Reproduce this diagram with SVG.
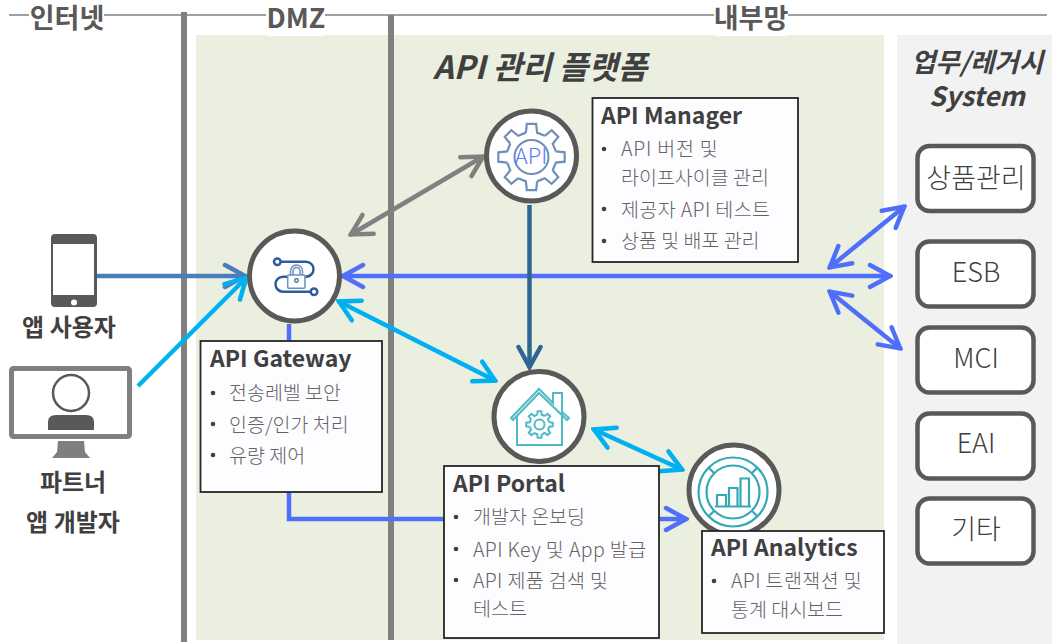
<svg xmlns="http://www.w3.org/2000/svg" xmlns:xlink="http://www.w3.org/1999/xlink" width="1059" height="644" viewBox="0 0 1059 644">
<style>
text{font-family:"Noto Sans CJK KR","Noto Sans",sans-serif}
.zone{font-size:27px;font-weight:700;fill:#595959;text-anchor:middle}
.ttl{font-size:32px;font-weight:700;font-style:italic;fill:#404040}
.leg{font-size:26.500px;font-weight:700;font-style:italic;fill:#404040;text-anchor:middle}
.actor{font-size:24px;font-weight:700;fill:#404040;text-anchor:middle}
.h{font-size:23px;font-weight:700;fill:#404040}
.b{font-size:19.500px;fill:#636363;font-weight:300}
.dot{fill:#404040}
.box{fill:#fdfcff;stroke:#262626;stroke-width:1.800}
.sys{fill:#fff;stroke:#595959;stroke-width:4.500}
.st{font-size:27px;fill:#404040;text-anchor:middle;font-weight:300}
.circ{fill:#fff;stroke:#595959;stroke-width:5}
.c{fill:none;stroke-width:4.500}
.ah{fill:none;stroke-width:4.500;stroke-linecap:round;stroke-linejoin:miter}
</style>
<defs>
<marker id="mSteel" markerUnits="userSpaceOnUse" viewBox="-26 -14 28 28" refX="0" refY="0" markerWidth="28" markerHeight="28" orient="auto-start-reverse"><path class="ah" stroke="#4a7ebb" d="M-21,-11L-1,0L-21,11"/></marker>
<marker id="mCyan" markerUnits="userSpaceOnUse" viewBox="-26 -14 28 28" refX="0" refY="0" markerWidth="28" markerHeight="28" orient="auto-start-reverse"><path class="ah" stroke="#00b0f0" d="M-21,-11L-1,0L-21,11"/></marker>
<marker id="mBlue" markerUnits="userSpaceOnUse" viewBox="-26 -14 28 28" refX="0" refY="0" markerWidth="28" markerHeight="28" orient="auto-start-reverse"><path class="ah" stroke="#4f6ffa" d="M-21,-11L-1,0L-21,11"/></marker>
<marker id="mGray" markerUnits="userSpaceOnUse" viewBox="-26 -14 28 28" refX="0" refY="0" markerWidth="28" markerHeight="28" orient="auto-start-reverse"><path class="ah" stroke="#808080" d="M-21,-11L-1,0L-21,11"/></marker>
<marker id="mNavy" markerUnits="userSpaceOnUse" viewBox="-26 -14 28 28" refX="0" refY="0" markerWidth="28" markerHeight="28" orient="auto-start-reverse"><path class="ah" stroke="#2f6593" d="M-21,-11L-1,0L-21,11"/></marker>
<path id="tooth" fill="none" d="M-5.620,-24.360L-4.660,-33.180H4.660L5.620,-24.360L13.250,-21.200"/>
<g id="gear">
<use xlink:href="#tooth" href="#tooth"/><use xlink:href="#tooth" href="#tooth" transform="rotate(45)"/><use xlink:href="#tooth" href="#tooth" transform="rotate(90)"/><use xlink:href="#tooth" href="#tooth" transform="rotate(135)"/><use xlink:href="#tooth" href="#tooth" transform="rotate(180)"/><use xlink:href="#tooth" href="#tooth" transform="rotate(225)"/><use xlink:href="#tooth" href="#tooth" transform="rotate(270)"/><use xlink:href="#tooth" href="#tooth" transform="rotate(315)"/>
</g>
</defs>

<g id="zones">
<rect x="196" y="35" width="688" height="605" fill="#ebefdf"/>
<rect x="897" y="35" width="155" height="609" fill="#f2f2f2"/>
<line x1="9" y1="15" x2="1047" y2="15" stroke="#7f7f7f" stroke-width="1.600"/>
<line x1="184" y1="12" x2="184" y2="642" stroke="#7f7f7f" stroke-width="6"/>
<line x1="391" y1="15" x2="391" y2="640" stroke="#7f7f7f" stroke-width="6"/>
<rect x="29" y="0" width="75" height="32" fill="#fff"/>
<rect x="266" y="0" width="59" height="36" fill="#fff"/>
<rect x="714" y="0" width="74" height="36" fill="#fff"/>
<text class="zone" x="67" y="28">인터넷</text>
<text class="zone" x="296" y="28">DMZ</text>
<text class="zone" x="751" y="28">내부망</text>
<text class="ttl" x="433" y="79">API 관리 플랫폼</text>
<text class="leg" x="977" y="72">업무/레거시</text>
<text class="leg" x="977" y="106">System</text>
</g>

<g id="connectors">
<line class="c" stroke="#4a7ebb" x1="97" y1="276" x2="246" y2="276" marker-end="url(#mSteel)"/>
<line class="c" stroke="#00b0f0" x1="138" y1="386" x2="247" y2="277" marker-end="url(#mCyan)"/>
<line class="c" stroke="#808080" x1="350" y1="235" x2="484" y2="156" marker-start="url(#mGray)" marker-end="url(#mGray)"/>
<path class="c" stroke="#4f6ffa" d="M289,324V519H687" marker-end="url(#mBlue)"/>
<line class="c" stroke="#4f6ffa" x1="342" y1="276" x2="891" y2="276" marker-start="url(#mBlue)" marker-end="url(#mBlue)"/>
<line class="c" stroke="#2f6593" x1="529.500" y1="205" x2="529.500" y2="368" marker-end="url(#mNavy)"/>
<line class="c" stroke="#00b0f0" x1="338" y1="301" x2="496" y2="381" marker-start="url(#mCyan)" marker-end="url(#mCyan)"/>
<line class="c" stroke="#00b0f0" x1="593" y1="429" x2="683" y2="470" marker-start="url(#mCyan)" marker-end="url(#mCyan)"/>
<line class="c" stroke="#4f6ffa" x1="829" y1="268" x2="905" y2="206" marker-start="url(#mBlue)" marker-end="url(#mBlue)"/>
<line class="c" stroke="#4f6ffa" x1="829" y1="291" x2="901" y2="349" marker-start="url(#mBlue)" marker-end="url(#mBlue)"/>
</g>

<g id="app-user">
<rect x="51" y="234" width="46" height="73" rx="4" fill="#595959"/>
<rect x="53" y="244" width="41" height="51" fill="#fff"/>
<circle cx="74" cy="302.500" r="3" fill="#fff"/>
<text class="actor" x="69" y="336">앱 사용자</text>
</g>

<g id="partner-dev">
<rect x="11.500" y="368.500" width="118" height="68" rx="2" fill="#fff" stroke="#7f7f7f" stroke-width="5"/>
<circle cx="71" cy="393" r="18" fill="#fff" stroke="#595959" stroke-width="2.500"/>
<path d="M48,430V422Q48,415 56,415H86Q94,415 94,422V430Z" fill="#595959"/>
<path d="M58,441H84L85,452L90,458H52L57,452Z" fill="#7f7f7f"/>
<text class="actor" x="73" y="491">파트너</text>
<text class="actor" x="73" y="531">앱 개발자</text>
</g>

<g id="api-gateway">
<circle class="circ" cx="294.500" cy="276" r="45"/>
<path fill="none" stroke="#2f5c9c" stroke-width="2.500" d="M281,261.700H306A7.500,7.500 0 0 1 306,276.700H283A7.500,7.500 0 0 0 283,291.700H310.500"/>
<circle cx="277.300" cy="261.700" r="3.300" fill="#fff" stroke="#2f5c9c" stroke-width="2.500"/>
<circle cx="314" cy="291.700" r="3.300" fill="#fff" stroke="#2f5c9c" stroke-width="2.500"/>
<path fill="none" stroke="#6c8fbd" stroke-width="1.500" d="M290.500,275V271A6,6 0 0 1 302.500,271V275M293,275V271A3.500,3.500 0 0 1 300,271V275"/>
<rect x="287.700" y="275" width="17.300" height="13.300" rx="1" fill="#fff" stroke="#6c8fbd" stroke-width="1.500"/>
<circle cx="296.500" cy="280.500" r="1.800" fill="none" stroke="#2f5c9c" stroke-width="1.200"/>
<rect x="200.500" y="341" width="181.500" height="151" class="box"/>
<text class="h" x="210" y="367">API Gateway</text>
<circle class="dot" cx="213" cy="393" r="2.300"/><text class="b" x="229" y="400">전송레벨 보안</text>
<circle class="dot" cx="213" cy="424" r="2.300"/><text class="b" x="229" y="432">인증/인가 처리</text>
<circle class="dot" cx="213" cy="455" r="2.300"/><text class="b" x="229" y="463">유량 제어</text>
</g>

<g id="api-manager">
<circle class="circ" cx="531.500" cy="156" r="45"/>
<use xlink:href="#gear" href="#gear" transform="translate(531.500,157)" stroke="#6f8fb8" stroke-width="2.200"/>
<circle cx="531.500" cy="157" r="17" fill="none" stroke="#6f8fb8" stroke-width="2"/>
<text x="531" y="164" font-size="22" fill="#5b7cfa" text-anchor="middle" font-weight="300">API</text>
<rect x="592.500" y="98" width="205.500" height="164" class="box"/>
<text class="h" x="601" y="124">API Manager</text>
<circle class="dot" cx="604" cy="149" r="2.300"/><text class="b" x="621" y="156" letter-spacing="0.800">API 버전 및</text>
<text class="b" x="621" y="185">라이프사이클 관리</text>
<circle class="dot" cx="604" cy="209" r="2.300"/><text class="b" x="621" y="217" letter-spacing="0.400">제공자 API 테스트</text>
<circle class="dot" cx="604" cy="241" r="2.300"/><text class="b" x="621" y="248">상품 및 배포 관리</text>
</g>

<g id="api-portal">
<circle class="circ" cx="539" cy="416.500" r="45"/>
<g fill="none" stroke="#4fb9c6" stroke-width="2">
<path d="M511,418L539,389L553,403V393H562V412L569,418L567,420L539,393L513,420Z"/>
<path d="M517,415V445H562V412"/>
<use xlink:href="#gear" href="#gear" transform="translate(539.500,424.500) scale(0.4)" stroke-width="5"/>
<circle cx="539.500" cy="424.500" r="5"/>
</g>
<rect x="444" y="466" width="215" height="172" class="box"/>
<text class="h" x="453" y="492">API Portal</text>
<circle class="dot" cx="456" cy="517" r="2.300"/><text class="b" x="473" y="524">개발자 온보딩</text>
<circle class="dot" cx="456" cy="549" r="2.300"/><text class="b" x="473" y="557" letter-spacing="0.400">API Key 및 App 발급</text>
<circle class="dot" cx="456" cy="580" r="2.300"/><text class="b" x="473" y="588" letter-spacing="0.350">API 제품 검색 및</text>
<text class="b" x="473" y="616">테스트</text>
</g>

<g id="api-analytics">
<circle class="circ" cx="734" cy="490" r="45"/>
<g fill="none" stroke="#35aab5" stroke-width="2.200">
<circle cx="733" cy="492" r="34.500"/>
<circle cx="733" cy="492" r="26.500"/>
<path d="M714.200,473.200L708.600,467.600M751.800,473.200L757.400,467.600M751.800,510.800L757.400,516.400M714.200,510.800L708.600,516.400"/>
<path d="M717,506V495H726V506M729,506V488H737.500V506M740.500,506V478.500H749V506M715,506.500H751"/>
</g>
<rect x="702" y="531" width="182" height="102" class="box"/>
<text class="h" x="711" y="556">API Analytics</text>
<circle class="dot" cx="714" cy="581" r="2.300"/><text class="b" x="731" y="588" letter-spacing="0.400">API 트랜잭션 및</text>
<text class="b" x="731" y="617">통계 대시보드</text>
</g>

<g id="sys-product"><rect class="sys" x="917.500" y="146" width="116" height="65" rx="12"/><text class="st" x="976" y="188">상품관리</text></g>
<g id="sys-esb"><rect class="sys" x="917.500" y="241.500" width="116" height="65" rx="12"/><text class="st" x="976" y="282">ESB</text></g>
<g id="sys-mci"><rect class="sys" x="917.500" y="327.500" width="116" height="65" rx="12"/><text class="st" x="976" y="368">MCI</text></g>
<g id="sys-eai"><rect class="sys" x="917.500" y="413.500" width="116" height="65" rx="12"/><text class="st" x="976" y="453">EAI</text></g>
<g id="sys-etc"><rect class="sys" x="917.500" y="498.500" width="116" height="65" rx="12"/><text class="st" x="976" y="539">기타</text></g>
</svg>
